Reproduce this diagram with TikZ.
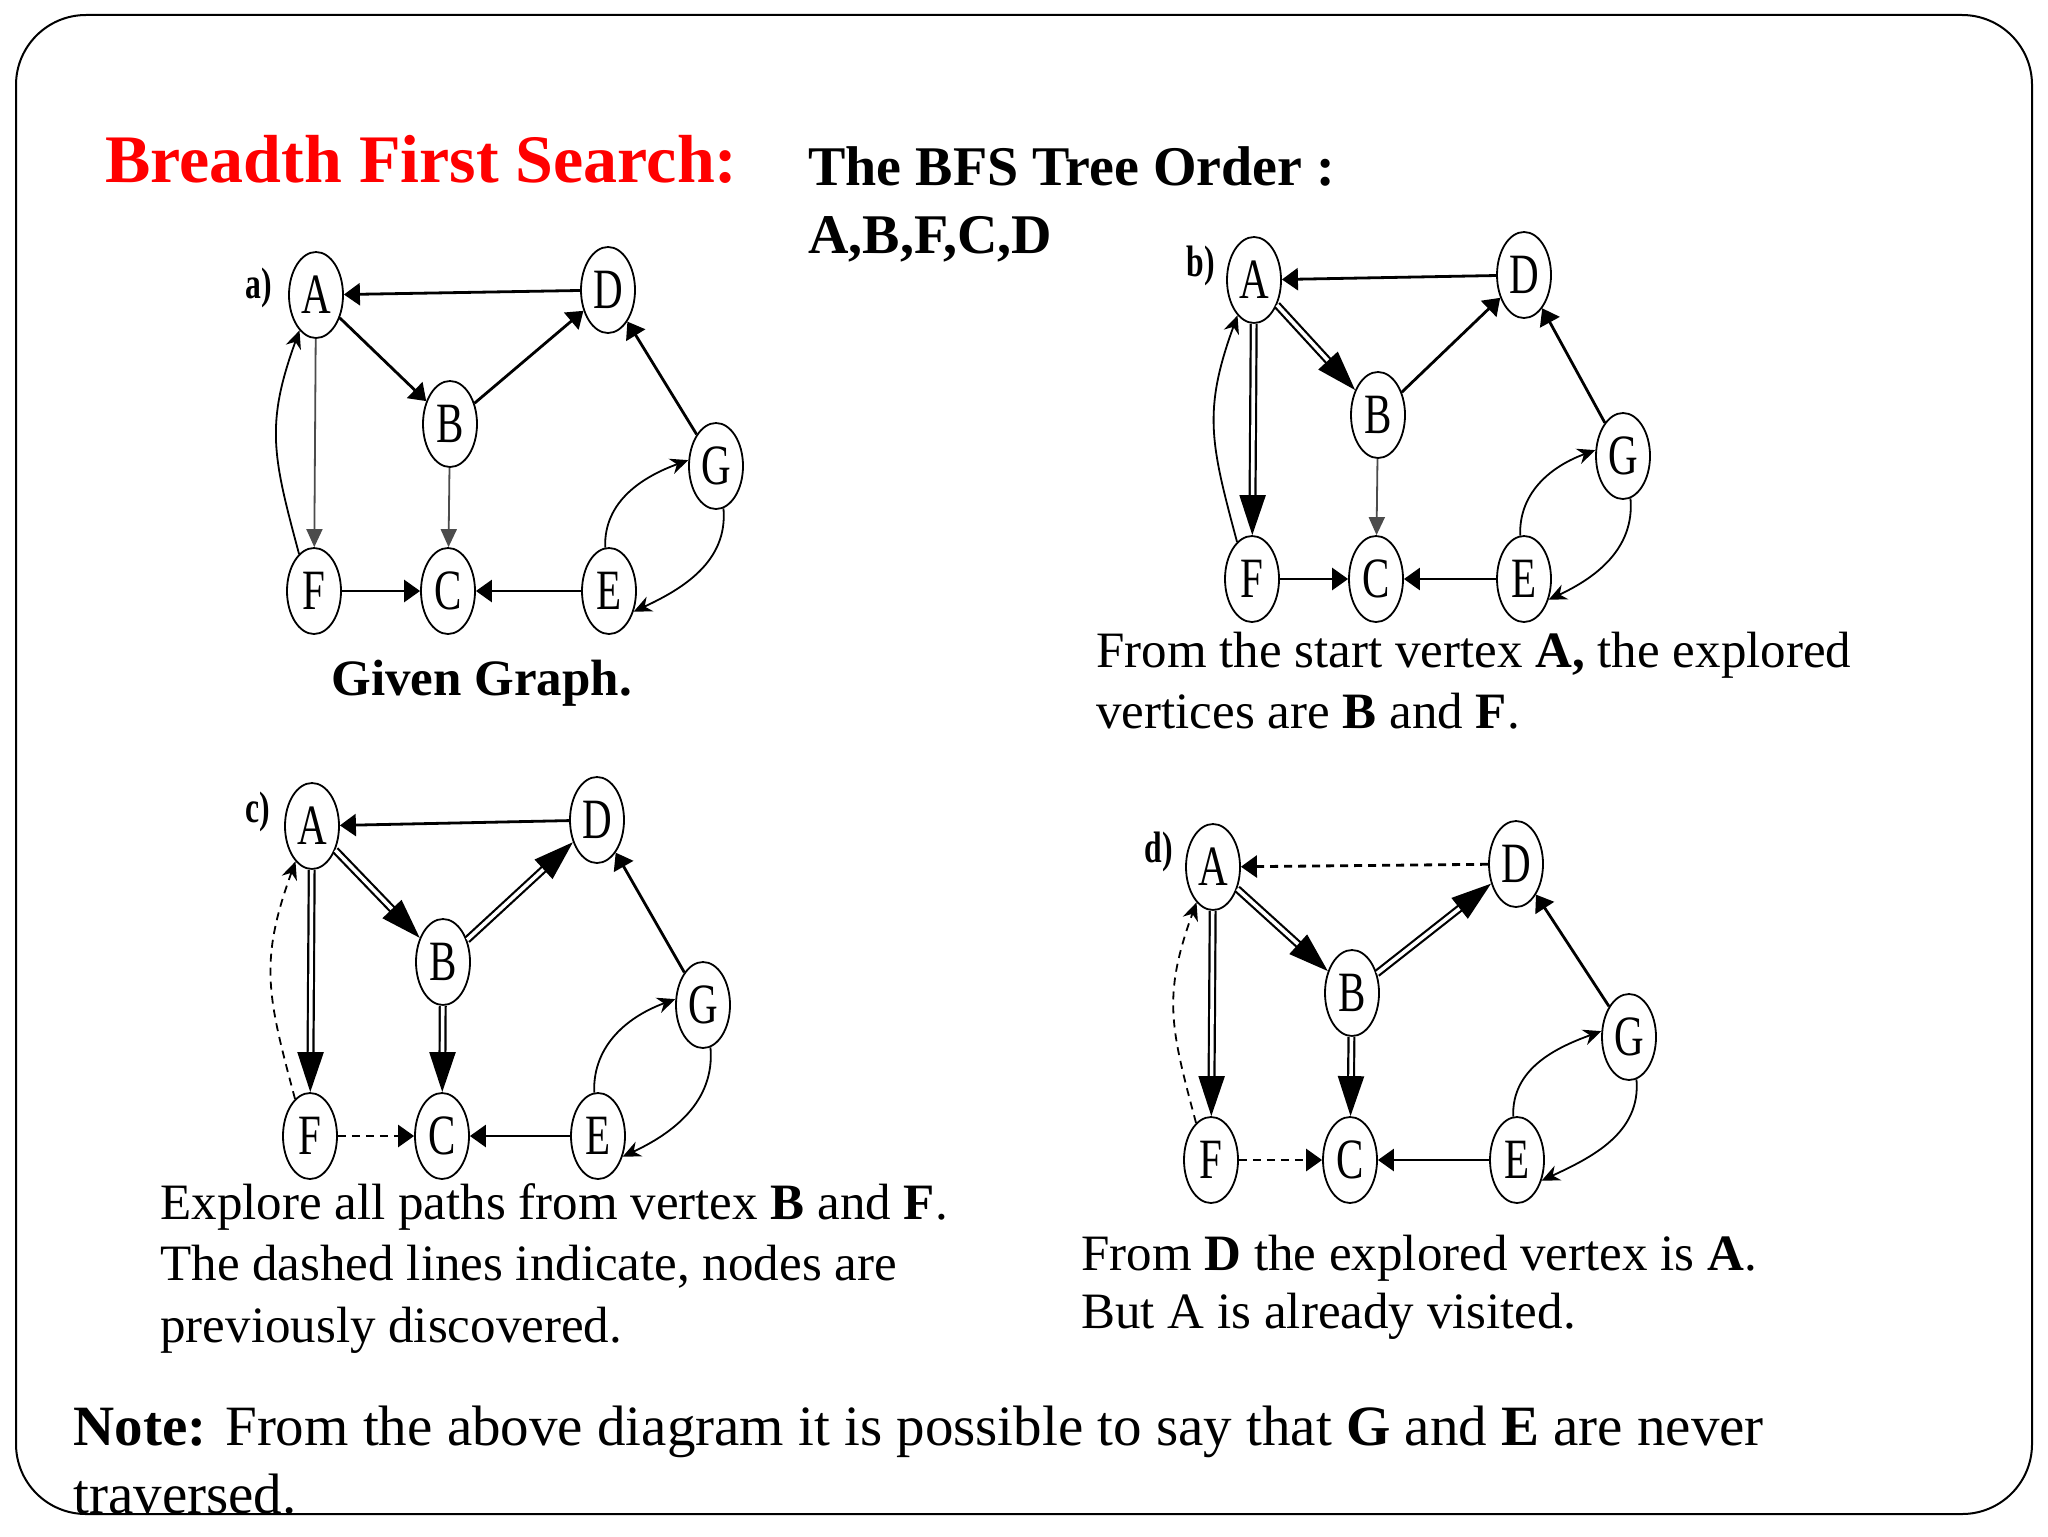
\documentclass[tikz,border=0pt]{standalone}
\usepackage{fontspec}
\setmainfont{Liberation Serif}
\newfontfamily\nodefont[FakeStretch=0.72]{Liberation Serif}
\usetikzlibrary{arrows.meta,shapes.geometric}
\begin{document}
\begin{tikzpicture}[x=0.5pt,y=-0.5pt,
  vtx/.style={ellipse, draw, line width=0.9pt, minimum width=27pt, minimum height=43pt, inner sep=0pt, fill=white,
    font=\nodefont\fontsize{28.5}{30}\selectfont},
  lbl/.style={inner sep=0pt, font=\nodefont\bfseries\fontsize{22}{24}\selectfont},
  edge/.style={line width=1.4pt, -{Triangle[length=8pt,width=11pt]}},
  thin/.style={line width=0.9pt, black!70, -{Triangle[length=9pt,width=8pt]}},
  tree/.style={double, line width=1.1pt, double distance=1.8pt, -{Triangle[length=20pt,width=13pt]}},
  curv/.style={line width=0.9pt, -{Stealth[length=9pt,width=8pt]}},
  dsh/.style={dash pattern=on 4pt off 3pt},
  txt/.style={anchor=base west, inner sep=0pt, font=\fontsize{25.5}{30}\selectfont},
]
\useasboundingbox (0,0) rectangle (2048,1536);
\fill[white] (0,0) rectangle (2048,1536);
\draw[line width=1pt, rounded corners=35pt] (16,15) rectangle (2032,1514);

% titles
\node[anchor=base west, inner sep=0pt, text=red, font=\bfseries\fontsize{34}{40}\selectfont] (title) at (105,182) {Breadth First Search:};
\node[anchor=base west, inner sep=0pt, font=\bfseries\fontsize{28}{34}\selectfont] (order1) at (808,185) {The BFS Tree Order :};
\node[anchor=base west, inner sep=0pt, font=\bfseries\fontsize{28}{34}\selectfont] (order2) at (808,253) {A,B,F,C,D};

% ---------- graph a ----------
\node[vtx] (aA) at (316,295) {A};
\node[vtx] (aD) at (608,290) {D};
\node[vtx] (aB) at (450,424) {B};
\node[vtx] (aG) at (716,466) {G};
\node[vtx] (aF) at (314,591) {F};
\node[vtx] (aC) at (448,591) {C};
\node[vtx] (aE) at (609,591) {E};
\node[lbl] (alab) at (259,288) {a)};
\draw[edge] (aD) -- (aA);
\draw[edge] (aA) -- (aB);
\draw[thin] (aA) -- (aF);
\draw[edge] (aB) -- (aD);
\draw[thin] (aB) -- (aC);
\draw[edge] (aF) -- (aC);
\draw[edge] (aE) -- (aC);
\draw[edge] (aG) -- (aD);
\draw[curv] (aF.112) to[out=105,in=250,looseness=1.15] (aA.245);
\draw[curv] (aE.95) to[out=92,in=200] (aG.168);
\draw[curv] (aG.280) to[out=275,in=25] (aE.320);
\node[anchor=base west, inner sep=0pt, font=\bfseries\fontsize{25.5}{30}\selectfont] (acap) at (331,695) {Given Graph.};

% ---------- graph b ----------
\node[vtx] (bA) at (1254,280) {A};
\node[vtx] (bD) at (1524,275) {D};
\node[vtx] (bB) at (1378,415) {B};
\node[vtx] (bG) at (1623,456) {G};
\node[vtx] (bF) at (1252,579) {F};
\node[vtx] (bC) at (1376,579) {C};
\node[vtx] (bE) at (1524,579) {E};
\node[lbl] (blab) at (1201,266) {b)};
\draw[edge] (bD) -- (bA);
\draw[tree] (bA) -- (bB);
\draw[tree] (bA) -- (bF);
\draw[edge] (bB) -- (bD);
\draw[thin] (bB) -- (bC);
\draw[edge] (bF) -- (bC);
\draw[edge] (bE) -- (bC);
\draw[edge] (bG) -- (bD);
\draw[curv] (bF.112) to[out=105,in=250,looseness=1.15] (bA.245);
\draw[curv] (bE.95) to[out=92,in=200] (bG.168);
\draw[curv] (bG.280) to[out=275,in=25] (bE.320);
\node[txt] (btx1) at (1096,667) {From the start vertex \textbf{A,} the explored};
\node[txt] (btx2) at (1096,728) {vertices are \textbf{B} and \textbf{F}.};

% ---------- graph c ----------
\node[vtx] (cA) at (312,826) {A};
\node[vtx] (cD) at (597,820) {D};
\node[vtx] (cB) at (443,962) {B};
\node[vtx] (cG) at (703,1005) {G};
\node[vtx] (cF) at (310,1136) {F};
\node[vtx] (cC) at (442,1136) {C};
\node[vtx] (cE) at (598,1136) {E};
\node[lbl] (clab) at (258,812) {c)};
\draw[edge] (cD) -- (cA);
\draw[tree] (cA) -- (cB);
\draw[tree] (cA) -- (cF);
\draw[tree] (cB) -- (cD);
\draw[tree] (cB) -- (cC);
\draw[edge,dsh] (cF) -- (cC);
\draw[edge] (cE) -- (cC);
\draw[edge] (cG) -- (cD);
\draw[curv,dsh] (cF.112) to[out=105,in=250,looseness=1.15] (cA.245);
\draw[curv] (cE.95) to[out=92,in=200] (cG.168);
\draw[curv] (cG.280) to[out=275,in=25] (cE.320);
\node[txt] (ctx1) at (160,1219) {Explore all paths from vertex \textbf{B} and \textbf{F}.};
\node[txt] (ctx2) at (160,1280) {The dashed lines indicate, nodes are};
\node[txt] (ctx3) at (160,1342) {previously discovered.};

% ---------- graph d ----------
\node[vtx] (dA) at (1213,867) {A};
\node[vtx] (dD) at (1516,864) {D};
\node[vtx] (dB) at (1352,993) {B};
\node[vtx] (dG) at (1629,1037) {G};
\node[vtx] (dF) at (1211,1160) {F};
\node[vtx] (dC) at (1350,1160) {C};
\node[vtx] (dE) at (1517,1160) {E};
\node[lbl] (dlab) at (1159,852) {d)};
\draw[edge,dsh] (dD) -- (dA);
\draw[tree] (dA) -- (dB);
\draw[tree] (dA) -- (dF);
\draw[tree] (dB) -- (dD);
\draw[tree] (dB) -- (dC);
\draw[edge,dsh] (dF) -- (dC);
\draw[edge] (dE) -- (dC);
\draw[edge] (dG) -- (dD);
\draw[curv,dsh] (dF.112) to[out=105,in=250,looseness=1.15] (dA.245);
\draw[curv] (dE.95) to[out=92,in=200] (dG.168);
\draw[curv] (dG.280) to[out=275,in=25] (dE.320);
\node[txt] (dtx1) at (1081,1270) {From \textbf{D} the explored vertex is \textbf{A}.};
\node[txt] (dtx2) at (1081,1328) {But A is already visited.};

% note
\node[anchor=base west, inner sep=0pt, font=\fontsize{28.5}{34}\selectfont] (note1) at (73,1445) {\textbf{Note:} From the above diagram it is possible to say that \textbf{G} and \textbf{E} are never};
\node[anchor=base west, inner sep=0pt, font=\fontsize{28.5}{34}\selectfont] (note2) at (73,1513) {traversed.};
\end{tikzpicture}
\end{document}
